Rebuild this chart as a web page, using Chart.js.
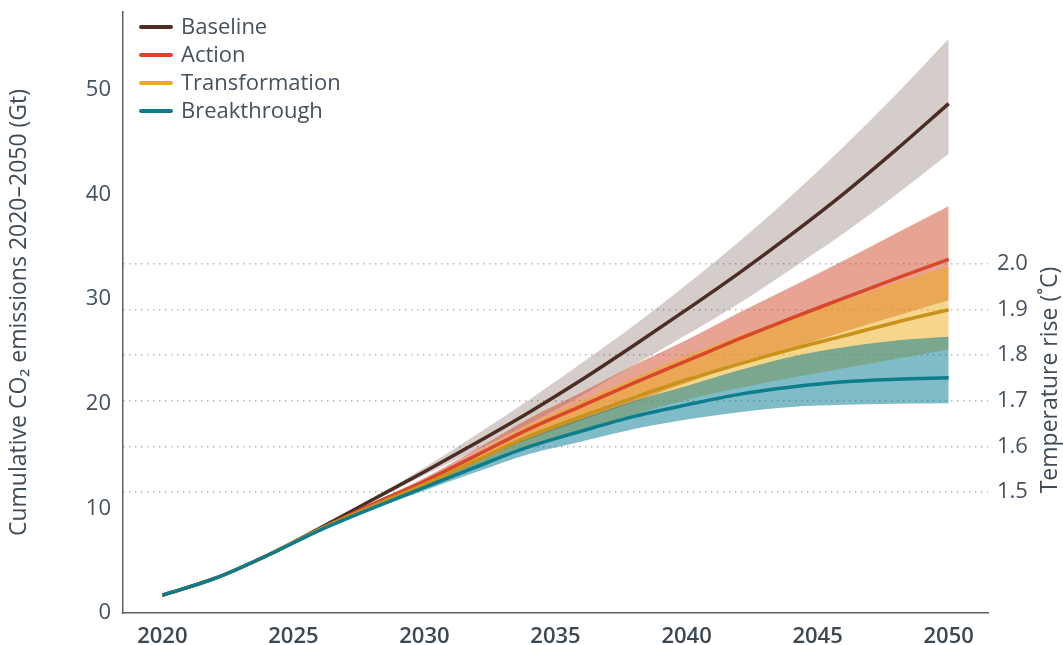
<!DOCTYPE html>
<html>
<head>
<meta charset="utf-8">
<script src="https://cdn.jsdelivr.net/npm/chart.js@4.4.1/dist/chart.umd.min.js"></script>
<style>
  html, body { margin: 0; padding: 0; background: #fff; }
  #wrap { width: 1063px; height: 645px; position: relative; }
</style>
</head>
<body>
<div id="wrap"><canvas id="lineChart"></canvas></div>
<script>
// years on the x axis (every 2 years)
const years = [2020, 2022, 2024, 2026, 2028, 2030, 2032, 2034, 2036, 2038, 2040, 2042, 2044, 2046, 2048, 2050];

// cumulative CO2 emissions, Gt
const baseline       = [1.7, 3.3, 5.5, 8.1, 10.8, 13.5, 16.3, 19.2, 22.3, 25.6, 29.0, 32.5, 36.2, 40.1, 44.3, 48.7];
const action         = [1.7, 3.3, 5.5, 8.0, 10.4, 12.6, 15.1, 17.6, 19.8, 22.0, 24.1, 26.2, 28.2, 30.1, 32.0, 33.8];
const transformation = [1.7, 3.3, 5.5, 8.0, 10.2, 12.3, 14.6, 16.9, 18.8, 20.6, 22.3, 23.8, 25.2, 26.5, 27.8, 29.0];
const breakthrough   = [1.7, 3.3, 5.5, 7.9, 10.0, 12.0, 14.0, 15.9, 17.4, 18.8, 19.9, 20.9, 21.6, 22.1, 22.35, 22.5];

// uncertainty ranges
const baselineHigh = [1.7, 3.3, 5.5, 8.1, 10.9, 13.9, 17.1, 20.4, 23.9, 27.5, 31.4, 35.5, 39.9, 44.6, 49.6, 54.9];
const baselineLow  = [1.7, 3.3, 5.5, 8.1, 10.7, 13.2, 15.6, 18.1, 20.8, 23.7, 26.6, 29.6, 32.9, 36.3, 40.0, 43.9];
const actionHigh   = [1.7, 3.3, 5.5, 8.0, 10.5, 12.9, 15.7, 18.6, 21.1, 23.7, 26.1, 28.7, 31.2, 33.7, 36.3, 38.9];
const actionLow    = [1.7, 3.3, 5.5, 8.0, 10.3, 12.3, 14.5, 16.6, 18.4, 20.2, 22.0, 23.7, 25.3, 26.9, 28.4, 29.9];
const transHigh    = [1.7, 3.3, 5.5, 8.0, 10.3, 12.6, 15.3, 18.0, 20.3, 22.5, 24.6, 26.5, 28.3, 29.9, 31.6, 33.1];
const transLow     = [1.7, 3.3, 5.5, 8.0, 10.1, 12.0, 14.0, 16.0, 17.5, 19.0, 20.4, 21.5, 22.5, 23.4, 24.3, 25.2];
const breakHigh    = [1.7, 3.3, 5.5, 7.9, 10.1, 12.3, 14.6, 16.8, 18.6, 20.3, 21.7, 23.2, 24.5, 25.4, 26.05, 26.4];
const breakLow     = [1.7, 3.3, 5.5, 7.9, 9.9, 11.7, 13.5, 15.2, 16.4, 17.6, 18.5, 19.2, 19.7, 19.9, 20.0, 20.05];

// tick labels
const xTicks = [2020, 2025, 2030, 2035, 2040, 2045, 2050];
const yTicks = [0, 10, 20, 30, 40, 50];
const tempTicks = [1.5, 1.6, 1.7, 1.8, 1.9, 2.0];

const seriesNames = ['Baseline', 'Action', 'Transformation', 'Breakthrough'];
const lineColors = ['#4b2d24', '#d8472a', '#c9921a', '#0b7d8c'];
const legendColors = ['#4b2d24', '#d8472a', '#f0aa1e', '#0b7d8c'];
const bandColors = ['rgba(87,55,39,0.25)', 'rgba(209,73,39,0.5)', 'rgba(237,173,25,0.5)', 'rgba(0,121,145,0.5)'];

const textColor = '#45515c';
const FONT = '"Open Sans", sans-serif';

const pts = arr => years.map((yr, i) => ({ x: yr, y: arr[i] }));

const lines = [baseline, action, transformation, breakthrough];
const bands = [[baselineLow, baselineHigh], [actionLow, actionHigh], [transLow, transHigh], [breakLow, breakHigh]];

const datasets = [];
// bands first, drawn underneath
bands.forEach((b, i) => {
    const lowIdx = datasets.length;
    datasets.push({
        label: seriesNames[i] + ' low',
        data: pts(b[0]),
        borderWidth: 0,
        pointRadius: 0,
        fill: false,
        cubicInterpolationMode: 'monotone',
        order: 20 - i * 2
    });
    datasets.push({
        label: seriesNames[i] + ' high',
        data: pts(b[1]),
        borderWidth: 0,
        pointRadius: 0,
        backgroundColor: bandColors[i],
        fill: { target: lowIdx },
        cubicInterpolationMode: 'monotone',
        order: 19 - i * 2
    });
});
lines.forEach((l, i) => {
    datasets.push({
        label: seriesNames[i],
        data: pts(l),
        borderColor: lineColors[i],
        borderWidth: 3.5,
        pointRadius: 0,
        fill: false,
        cubicInterpolationMode: 'monotone',
        order: 4 - i
    });
});

const extraText = {
    id: 'extraText',
    afterDraw(chart) {
        const ctx = chart.ctx;
        const area = chart.chartArea;
        ctx.save();
        ctx.font = '22px ' + FONT;
        ctx.textBaseline = 'middle';
        seriesNames.forEach((name, i) => {
            const y = area.top + 15 + i * 28;
            ctx.strokeStyle = legendColors[i];
            ctx.lineWidth = 4;
            ctx.lineCap = 'round';
            ctx.beginPath();
            ctx.moveTo(area.left + 18, y);
            ctx.lineTo(area.left + 48, y);
            ctx.stroke();
            ctx.fillStyle = textColor;
            ctx.fillText(name, area.left + 58, y + 1);
        });
        // right axis title
        ctx.font = '23px ' + FONT;
        ctx.translate(1050, 380);
        ctx.rotate(-Math.PI / 2);
        ctx.textAlign = 'center';
        ctx.fillStyle = '#3f4b56';
        ctx.fillText('Temperature rise (˚C)', 0, 0);
        ctx.restore();
    }
};

const noPad = s => { s.paddingTop = 0; s.paddingBottom = 0; };

var ctx = document.getElementById('lineChart').getContext('2d');
var myChart = new Chart(ctx, {
    type: 'line',
    data: { datasets: datasets },
    plugins: [extraText],
    options: {
        responsive: true,
        maintainAspectRatio: false,
        animation: false,
        layout: { padding: { top: 12, left: 0, right: 0, bottom: 0 } },
        plugins: {
            legend: { display: false },
            tooltip: { enabled: false },
            title: { display: false }
        },
        scales: {
            x: {
                type: 'linear',
                min: 2018.5,
                max: 2051.5,
                grid: { display: false, drawTicks: false },
                border: { display: true, color: '#5a6066', width: 1.5 },
                afterBuildTicks: s => { s.ticks = xTicks.map(v => ({ value: v })); },
                afterFit: s => { s.height = 32; s.paddingLeft = 0; s.paddingRight = 0; },
                ticks: {
                    padding: 11,
                    color: '#3c4751',
                    font: { family: FONT, size: 22, weight: '600' },
                    callback: v => String(v)
                }
            },
            y: {
                position: 'left',
                min: 0,
                max: 57.46,
                grid: { display: false, drawTicks: false },
                border: { display: true, color: '#5a6066', width: 1.5 },
                afterBuildTicks: s => { s.ticks = yTicks.map(v => ({ value: v })); },
                afterFit: s => { s.width = 123; noPad(s); },
                ticks: {
                    padding: 12,
                    color: textColor,
                    font: { family: FONT, size: 22 }
                },
                title: {
                    display: true,
                    text: 'Cumulative CO₂ emissions 2020–2050 (Gt)',
                    color: '#3f4b56',
                    font: { family: FONT, size: 23 },
                    padding: { top: 6, bottom: 0 }
                }
            },
            y2: {
                position: 'right',
                min: 1.2346,
                max: 2.5526,
                grid: { display: true, drawTicks: false, color: '#b5b5b5', lineWidth: 1.5 },
                border: { display: false, dash: [1.5, 4.5] },
                afterBuildTicks: s => { s.ticks = tempTicks.map(v => ({ value: v })); },
                afterFit: s => { s.width = 75; noPad(s); },
                ticks: {
                    padding: 9,
                    color: textColor,
                    font: { family: FONT, size: 22 },
                    callback: v => v.toFixed(1)
                }
            }
        }
    }
});
</script>
</body>
</html>
